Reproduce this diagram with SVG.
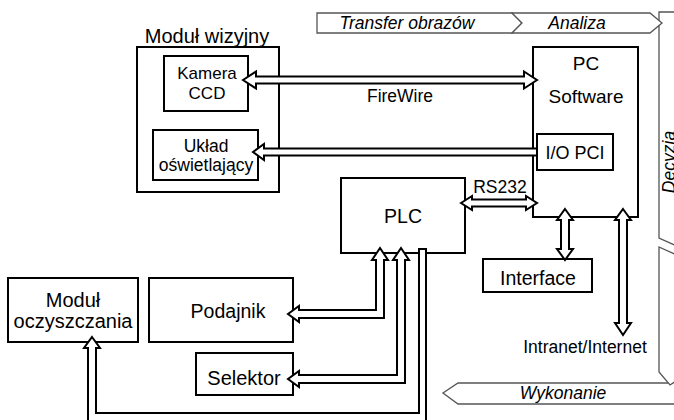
<svg xmlns="http://www.w3.org/2000/svg" width="674" height="420" viewBox="0 0 674 420">
  <style>
    .box { fill: #fff; stroke: #000; stroke-width: 2; }
    .stage { fill: #fff; stroke: #555; stroke-width: 1.3; stroke-linejoin: miter; }
    .link { fill: #fff; stroke: #000; stroke-width: 2; stroke-linejoin: miter; }
    text { font-family: "Liberation Sans", Arial, sans-serif; fill: #000; text-anchor: middle; }
    .it { font-style: italic; font-size: 17.5px; }
  </style>

  <!-- process stages along the top and right edge -->
  <g id="stages">
    <path class="stage" d="M659,12 L690,12 L690,238 L681,248 L659,238 Z"/>
    <path class="stage" d="M690,404 L458,404 L443,393 L458,383 L668,383"/>
    <path class="stage" d="M659,247 L681,257 L690,257 L690,372 L670,385 L659,372 Z"/>
    <path class="stage" d="M317,13 L512,13 L522,23 L512,33 L317,33 Z"/>
    <path class="stage" d="M512,13 L650,13 L662,23 L650,33 L512,33 L522,23 Z"/>
    <text class="it" x="407" y="29">Transfer obrazów</text>
    <text class="it" x="577" y="29">Analiza</text>
    <text class="it" x="675" y="162" transform="rotate(-90 675 162)" dominant-baseline="auto">Decyzja</text>
    <text class="it" x="563" y="399">Wykonanie</text>
  </g>

  <g id="modul-wizyjny">
    <rect class="box" x="137" y="47" width="142" height="145"/>
    <text x="207" y="43" font-size="20">Moduł wizyjny</text>
  </g>

  <g id="kamera-ccd">
    <rect class="box" x="164" y="56" width="84" height="55"/>
    <text x="207" y="79" font-size="17">Kamera</text>
    <text x="207" y="99" font-size="17">CCD</text>
  </g>

  <g id="uklad-oswietlajacy">
    <rect class="box" x="153" y="130" width="105" height="50"/>
    <text x="206" y="152" font-size="17.5">Układ</text>
    <text x="206" y="171" font-size="17.5">oświetlający</text>
  </g>

  <g id="pc-software">
    <rect class="box" x="533" y="47" width="105" height="170"/>
    <text x="586" y="70" font-size="19">PC</text>
    <text x="586" y="103" font-size="19">Software</text>
  </g>

  <g id="plc">
    <rect class="box" x="341" y="178" width="124" height="75"/>
    <text x="403" y="223" font-size="19.5">PLC</text>
  </g>

  <g id="interface">
    <rect class="box" x="483" y="259" width="109" height="33"/>
    <text x="538" y="285" font-size="19.5">Interface</text>
  </g>

  <g id="modul-oczyszczania">
    <rect class="box" x="8" y="278" width="130" height="64"/>
    <text x="73" y="307" font-size="20">Moduł</text>
    <text x="73" y="328" font-size="20">oczyszczania</text>
  </g>

  <g id="podajnik">
    <rect class="box" x="149" y="278" width="144" height="64"/>
    <text x="228" y="318" font-size="19.5">Podajnik</text>
  </g>

  <g id="selektor">
    <rect class="box" x="196" y="353" width="97" height="42"/>
    <text x="244" y="385" font-size="20">Selektor</text>
  </g>

  <!-- hollow block arrows between the units -->
  <g id="connectors">
    <path class="link" d="M243,80 L256,71.5 L256,76.5 L524,76.5 L524,71.5 L537,80 L524,88.5 L524,83.5 L256,83.5 L256,88.5 Z"/>
    <path class="link" d="M253,152 L264,144 L264,148.5 L537,148.5 L537,155.5 L264,155.5 L264,160 Z"/>
    <path class="link" d="M461,203 L472,196 L472,199.5 L526,199.5 L526,196 L537,203 L526,210 L526,206.5 L472,206.5 L472,210 Z"/>
    <path class="link" d="M565,209 L573,220 L569,220 L569,249 L573,249 L565,260 L557,249 L561,249 L561,220 L557,220 Z"/>
    <path class="link" d="M623,209 L631,220 L627,220 L627,323 L631,323 L623,335 L615,323 L619,323 L619,220 L615,220 Z"/>
    <path class="link" d="M380,248 L388,260 L384,260 L384,318 L299,318 L299,322 L288,314 L299,306 L299,310 L376,310 L376,260 L372,260 Z"/>
    <path class="link" d="M401,248 L409,260 L405,260 L405,383 L299,383 L299,387 L288,379 L299,371 L299,375 L397,375 L397,260 L393,260 Z"/>
    <path class="link" d="M92,337 L100,348 L96,348 L96,413 L419,413 L419,249 L426,249 L426,430 L88,430 L88,348 L84,348 Z"/>
    <text x="400" y="102" font-size="17.5">FireWire</text>
    <text x="500" y="193" font-size="17.5">RS232</text>
    <text x="585" y="353" font-size="17.5">Intranet/Internet</text>
  </g>

  <g id="io-pci">
    <rect class="box" x="537" y="134" width="76" height="36"/>
    <text x="575" y="159" font-size="18">I/O PCI</text>
  </g>
</svg>
